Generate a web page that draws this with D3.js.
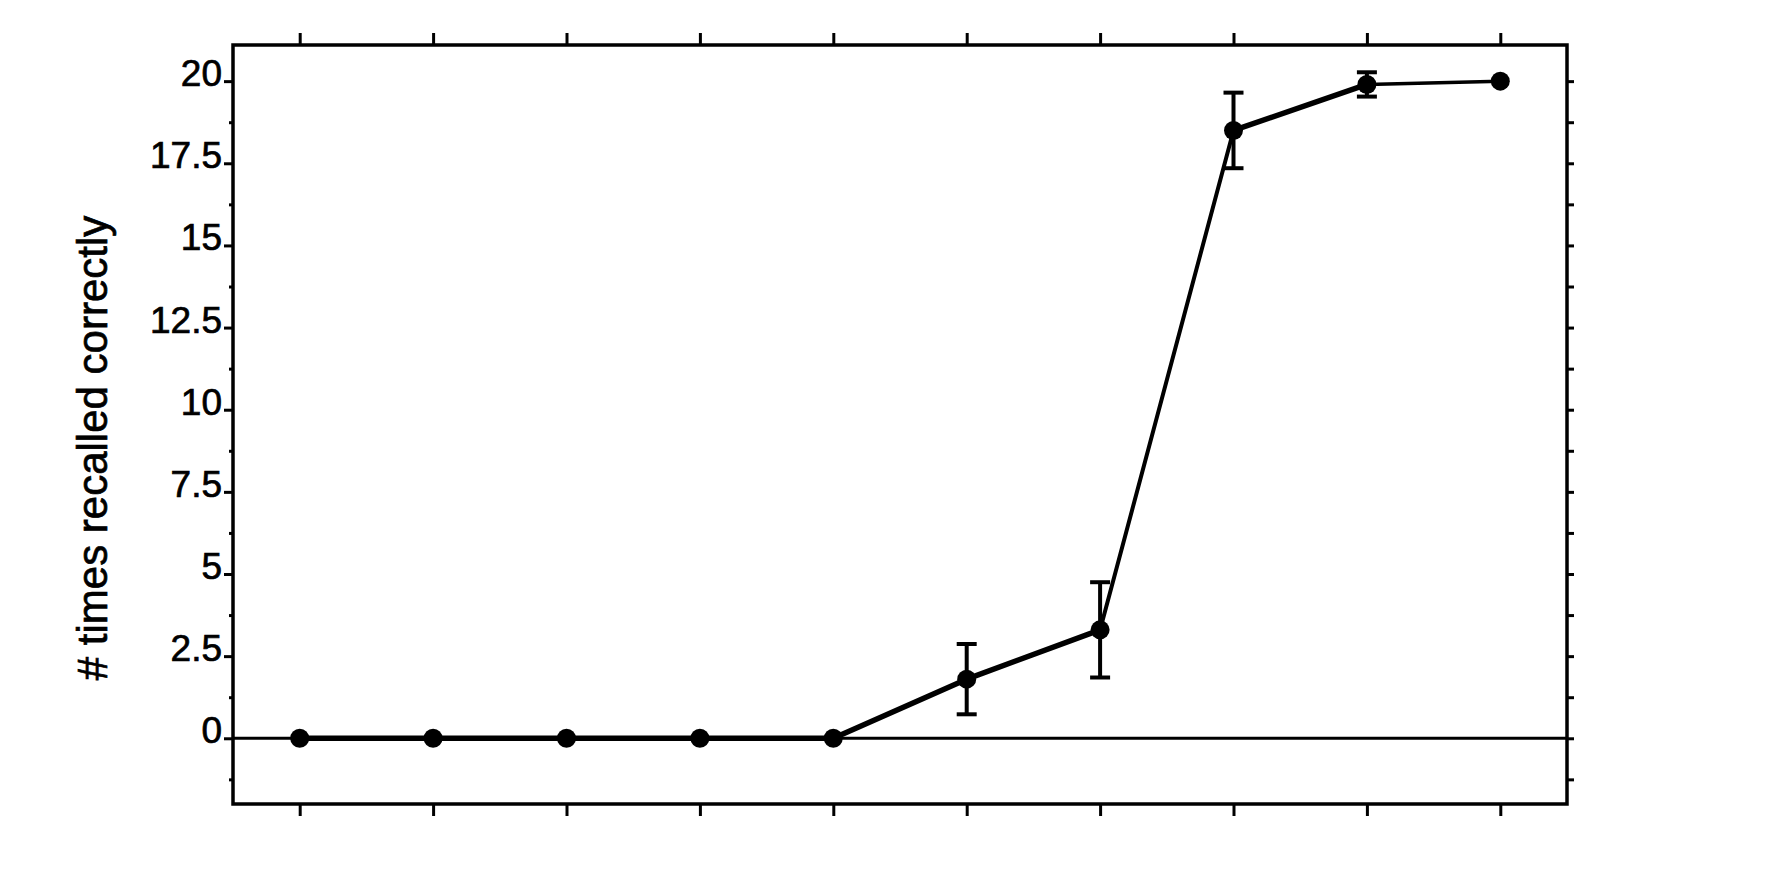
<!DOCTYPE html>
<html>
<head>
<meta charset="utf-8">
<script src="https://cdn.jsdelivr.net/npm/d3@7"></script>
<style>
  html, body { margin: 0; padding: 0; background: #fff; }
  svg { display: block; }
</style>
</head>
<body>
<div id="chart"></div>
<script>
// data
const trials = [1, 2, 3, 4, 5, 6, 7, 8, 9, 10];
const recalled = [0, 0, 0, 0, 0, 1.8, 3.3, 18.5, 19.9, 20.0];
const errors = [0, 0, 0, 0, 0, 1.07, 1.45, 1.15, 0.37, 0];
const yMajor = [0, 2.5, 5, 7.5, 10, 12.5, 15, 17.5, 20];
const yMinor = [-1.25, 1.25, 3.75, 6.25, 8.75, 11.25, 13.75, 16.25, 18.75];
const yTitle = "# times recalled correctly";

const width = 1768, height = 896;
const plotLeft = 233, plotRight = 1567, plotTop = 45, plotBottom = 804;

const svg = d3.select("#chart").append("svg")
    .attr("width", width)
    .attr("height", height)
    .style("background", "white");

const x = d3.scaleLinear().domain([0.5, 10.5]).range([plotLeft, plotRight]);
const y = d3.scaleLinear().domain([-2, 21.1]).range([plotBottom, plotTop]);

const font = "'Liberation Sans', Arial, Helvetica, sans-serif";

// left axis: labelled major ticks + short minor ticks
const leftAxis = svg.append("g")
    .attr("transform", `translate(${plotLeft},0)`)
    .call(d3.axisLeft(y).tickValues(yMajor).tickSize(9).tickPadding(2)
        .tickFormat(d => String(d)));
leftAxis.select(".domain").remove();
leftAxis.selectAll("line").attr("stroke", "#000").attr("stroke-width", 3);
leftAxis.selectAll("text")
    .attr("dy", "0.12em")
    .style("font-family", font)
    .style("font-size", "37px")
    .attr("fill", "#000")
    .attr("stroke", "#000")
    .attr("stroke-width", 0.7);

const leftMinor = svg.append("g")
    .attr("transform", `translate(${plotLeft},0)`)
    .call(d3.axisLeft(y).tickValues(yMinor).tickSize(4).tickFormat(""));
leftMinor.select(".domain").remove();
leftMinor.selectAll("line").attr("stroke", "#000").attr("stroke-width", 3);

// right axis, no labels
const rightAxis = svg.append("g")
    .attr("transform", `translate(${plotRight},0)`)
    .call(d3.axisRight(y).tickValues(yMajor.concat(yMinor)).tickSize(7).tickFormat(""));
rightAxis.select(".domain").remove();
rightAxis.selectAll("line").attr("stroke", "#000").attr("stroke-width", 3);

// top and bottom ticks at each trial, no labels
const topAxis = svg.append("g")
    .attr("transform", `translate(0,${plotTop})`)
    .call(d3.axisTop(x).tickValues(trials).tickSize(12).tickFormat(""));
const bottomAxis = svg.append("g")
    .attr("transform", `translate(0,${plotBottom})`)
    .call(d3.axisBottom(x).tickValues(trials).tickSize(12).tickFormat(""));
[topAxis, bottomAxis].forEach(a => {
    a.select(".domain").remove();
    a.selectAll("line").attr("stroke", "#000").attr("stroke-width", 3);
});

// frame
svg.append("rect")
    .attr("x", plotLeft)
    .attr("y", plotTop)
    .attr("width", plotRight - plotLeft)
    .attr("height", plotBottom - plotTop)
    .attr("fill", "none")
    .attr("stroke", "#000")
    .attr("stroke-width", 3.5);

// zero line
svg.append("line")
    .attr("x1", plotLeft).attr("x2", plotRight)
    .attr("y1", y(0)).attr("y2", y(0))
    .attr("stroke", "#000")
    .attr("stroke-width", 3);

const points = trials.map((t, i) => ({ t, v: recalled[i], e: errors[i] }));

// connecting line, segment by segment (scan shows heavier strokes early on)
const segWidth = i => (i === 6 ? 4 : i === 8 ? 3.5 : 5.5);
svg.append("g").selectAll("line")
    .data(d3.pairs(points))
    .join("line")
    .attr("x1", d => x(d[0].t))
    .attr("y1", d => y(d[0].v))
    .attr("x2", d => x(d[1].t))
    .attr("y2", d => y(d[1].v))
    .attr("stroke", "#000")
    .attr("stroke-width", (d, i) => segWidth(i))
    .attr("stroke-linecap", "round");

// error bars
const capHalf = 10;
const bars = svg.append("g").selectAll("g")
    .data(points.filter(d => d.e > 0))
    .join("g");
bars.append("line")
    .attr("x1", d => x(d.t)).attr("x2", d => x(d.t))
    .attr("y1", d => y(d.v - d.e)).attr("y2", d => y(d.v + d.e))
    .attr("stroke", "#000").attr("stroke-width", 4);
bars.append("line")
    .attr("x1", d => x(d.t) - capHalf).attr("x2", d => x(d.t) + capHalf)
    .attr("y1", d => y(d.v + d.e)).attr("y2", d => y(d.v + d.e))
    .attr("stroke", "#000").attr("stroke-width", 4);
bars.append("line")
    .attr("x1", d => x(d.t) - capHalf).attr("x2", d => x(d.t) + capHalf)
    .attr("y1", d => y(d.v - d.e)).attr("y2", d => y(d.v - d.e))
    .attr("stroke", "#000").attr("stroke-width", 4);

// markers
svg.append("g").selectAll("circle")
    .data(points)
    .join("circle")
    .attr("cx", d => x(d.t))
    .attr("cy", d => y(d.v))
    .attr("r", 9.5)
    .attr("fill", "#000");

// y axis title
svg.append("text")
    .attr("transform", `translate(107,448) rotate(-90)`)
    .attr("text-anchor", "middle")
    .style("font-family", font)
    .style("font-size", "42px")
    .attr("fill", "#000")
    .attr("stroke", "#000")
    .attr("stroke-width", 0.7)
    .text(yTitle);
</script>
</body>
</html>
